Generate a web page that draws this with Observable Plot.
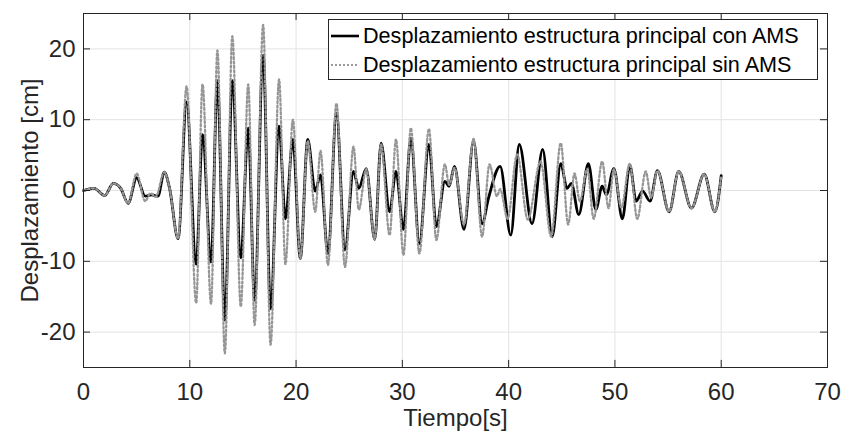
<!DOCTYPE html>
<html>
<head>
<meta charset="utf-8">
<script src="https://cdn.jsdelivr.net/npm/d3@7"></script>
<script src="https://cdn.jsdelivr.net/npm/@observablehq/plot@0.6"></script>
<style>
  body { margin: 0; background: #fff; }
  #wrap { position: relative; width: 842px; height: 436px; font-family: "Liberation Sans", Arial, Helvetica, sans-serif; }
  #legend { position: absolute; left: 328px; top: 19px; width: 488px; height: 59px; border: 1px solid #262626; background: #fff; }
  #legend .row { position: absolute; left: 0; height: 30px; display: flex; align-items: center; }
  #legend .row span { font-size: 21.6px; color: #000; margin-left: 4px; white-space: nowrap; }
</style>
</head>
<body>
<div id="wrap"></div>
<script>
// Series 1: con AMS (extrema)
const tCon = [0,1.0,2.0,2.8,3.5,4.2,5.0,5.8,6.4,7.0,7.6,8.1,8.9,9.7,10.6,11.2,12.0,12.6,13.3,14.0,14.8,15.5,16.1,16.9,17.6,18.4,19.0,19.7,20.4,21.1,21.8,22.3,23.0,23.8,24.6,25.4,25.9,26.6,27.4,28.0,28.8,29.4,30.1,30.8,31.6,32.5,33.2,34.0,34.4,34.9,35.8,36.7,37.5,38.1,39.2,40.2,41.0,42.2,43.2,44.1,44.9,45.5,45.9,46.6,47.5,48.2,48.8,49.2,49.9,50.7,51.4,52.0,52.6,53.3,54.0,55.1,56.0,57.2,58.4,59.4,60.0];
const vCon = [0,0.3,-0.7,1.0,0.3,-1.8,1.8,-0.8,-0.6,-0.8,2.6,0.3,-6.8,12.5,-10.4,7.9,-10.1,15.5,-18.3,15.5,-9.5,8.8,-15.5,19.1,-16.7,9.1,-4.0,7.2,-9.6,7.2,-0.1,2.2,-8.9,10.9,-8.4,2.7,0.3,3.1,-6.9,6.7,-3.0,2.7,-5.5,7.4,-7.5,6.5,-5.1,1.3,0.6,3.4,-5.5,7.0,-4.7,-1.1,3.4,-6.3,6.5,-4.7,5.8,-6.5,3.8,0.3,1.0,-3.4,3.8,-2.7,0.6,-0.6,3.1,-4.0,3.6,-1.5,-0.1,-1.5,2.8,-3.0,2.7,-2.5,2.3,-3.0,2.1];
// Series 2: sin AMS
const tSin = [0,1.0,2.0,2.8,3.5,4.2,5.0,5.8,6.3,6.8,7.6,8.1,8.9,9.7,10.6,11.2,12.0,12.6,13.3,14.0,14.8,15.5,16.1,16.9,17.6,18.4,19.0,19.7,20.4,21.1,21.8,22.3,23.0,23.8,24.6,25.4,25.9,26.6,27.4,28.0,28.8,29.4,30.1,30.8,31.6,32.5,33.2,34.0,34.4,34.9,35.8,36.7,37.5,38.2,38.9,39.2,39.9,40.8,41.8,43.0,44.0,44.9,45.6,46.2,46.7,47.4,48.0,48.8,49.4,49.9,50.6,51.4,52.1,52.9,53.4,54.0,55.1,56.0,57.2,58.4,59.4,60.0];
const vSin = [0,0.3,-0.7,1.0,0.3,-1.8,2.4,-1.5,-0.4,-0.9,2.6,0.3,-6.8,14.7,-15.9,15.0,-16.0,19.8,-23.0,21.8,-16.4,15.0,-19.0,23.4,-21.8,15.7,-10.4,10.0,-9.6,7.0,-3.0,5.6,-10.5,12.3,-10.8,6.2,-2.7,3.0,-6.9,6.5,-6.3,7.2,-9.1,8.8,-8.9,8.7,-7.0,3.7,0.8,3.2,-4.8,7.3,-6.5,3.7,-0.8,0.2,-4.0,5.1,-4.1,4.1,-6.5,6.7,-4.8,2.4,-1.5,3.0,-4.0,4.1,-2.5,3.0,-2.4,3.8,-4.0,2.7,-1.0,2.8,-3.0,2.7,-2.5,2.3,-3.0,2.1];

const xTicks = [0,10,20,30,40,50,60,70];
const yTicks = [-20,-10,0,10,20];
const labelCon = "Desplazamiento estructura principal con AMS";
const labelSin = "Desplazamiento estructura principal sin AMS";
const xLabel = "Tiempo[s]";
const yLabel = "Desplazamiento [cm]";

const con = tCon.map((t, i) => ({t, v: vCon[i]}));
const sin = tSin.map((t, i) => ({t, v: vSin[i]}));

const ink = "#262626";
const grid = "#e3e3e3";

const chart = Plot.plot({
  width: 842,
  height: 436,
  marginLeft: 83,
  marginRight: 15,
  marginTop: 13,
  marginBottom: 69,
  style: {fontFamily: "'Liberation Sans', Arial, Helvetica, sans-serif", background: "#fff", overflow: "visible"},
  x: {domain: [0, 70], axis: null},
  y: {domain: [-25, 25], axis: null},
  marks: [
    Plot.ruleX(xTicks, {stroke: grid, strokeWidth: 1}),
    Plot.ruleY(yTicks, {stroke: grid, strokeWidth: 1}),
    Plot.line(con, {x: "t", y: "v", stroke: "#000", strokeWidth: 2.8, curve: "monotone-x"}),
    Plot.line(sin, {x: "t", y: "v", stroke: "#969696", strokeWidth: 2.3, strokeDasharray: "2,2.4", curve: "monotone-x"}),
    Plot.ruleX(xTicks, {y1: -25, y2: -24, stroke: ink}),
    Plot.ruleX(xTicks, {y1: 25, y2: 24, stroke: ink}),
    Plot.ruleY(yTicks, {x1: 0, x2: 0.66, stroke: ink}),
    Plot.ruleY(yTicks, {x1: 70, x2: 69.34, stroke: ink}),
    Plot.frame({stroke: ink, strokeWidth: 1}),
    Plot.axisX({ticks: xTicks, label: null, tickSize: 0, tickPadding: 15, fontSize: 24, fill: ink, tickFormat: d => String(d)}),
    Plot.axisY({ticks: yTicks, label: null, tickSize: 0, tickPadding: 8, fontSize: 24, fill: ink, tickFormat: d => String(d)}),
    Plot.text([xLabel], {frameAnchor: "bottom", dy: 58, text: d => d, fontSize: 24, fill: ink, lineAnchor: "bottom"}),
    Plot.text([yLabel], {frameAnchor: "left", dx: -46, rotate: -90, text: d => d, fontSize: 24, fill: ink, lineAnchor: "bottom", textAnchor: "middle"})
  ]
});

const wrap = document.getElementById("wrap");
wrap.appendChild(chart);

const legend = document.createElement("div");
legend.id = "legend";
legend.innerHTML = `
  <div class="row" style="top:1px"><svg width="30" height="4"><line x1="2" x2="30" y1="2" y2="2" stroke="#000" stroke-width="2.6"/></svg><span>${labelCon}</span></div>
  <div class="row" style="top:30px"><svg width="30" height="4"><line x1="2" x2="30" y1="2" y2="2" stroke="#9a9a9a" stroke-width="2" stroke-dasharray="2,2"/></svg><span>${labelSin}</span></div>`;
wrap.appendChild(legend);
</script>
</body>
</html>
